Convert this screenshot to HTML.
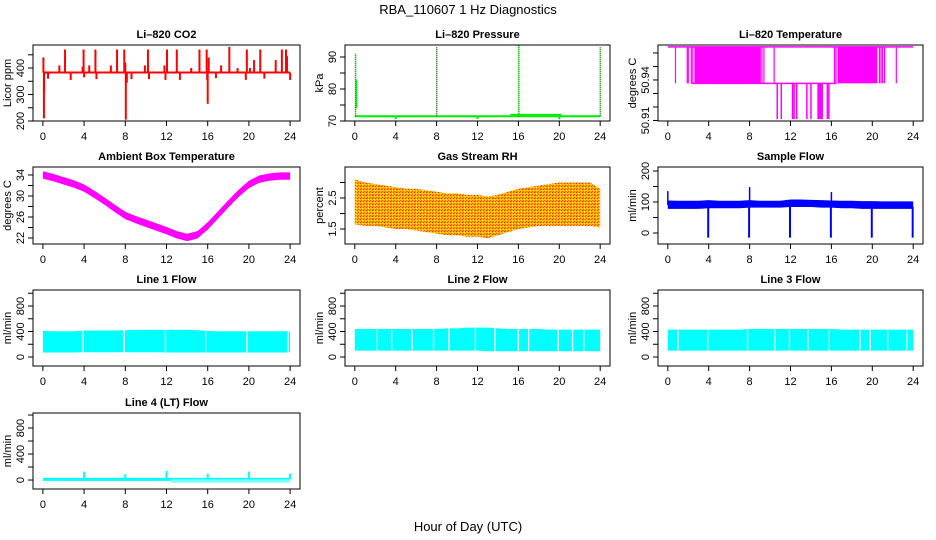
<!DOCTYPE html>
<html><head><meta charset="utf-8"><style>
html,body{margin:0;padding:0;background:#fff}
svg{display:block;font-family:"Liberation Sans",Arial,sans-serif}
</style></head><body>
<svg id="chart" width="936" height="540" viewBox="0 0 936 540" xmlns="http://www.w3.org/2000/svg">
<defs>
<pattern id="rhpat" width="3" height="3" patternUnits="userSpaceOnUse">
<rect width="3" height="3" fill="#ffb000"/><rect width="1" height="1" fill="#ff2000"/><rect x="2" y="1" width="1" height="1" fill="#ffff00"/><rect x="1" y="2" width="1" height="1" fill="#ff5000"/>
</pattern>
</defs>
<text x="468" y="14" text-anchor="middle" font-size="13">RBA_110607  1 Hz Diagnostics</text>
<text x="468" y="531" text-anchor="middle" font-size="13">Hour of Day (UTC)</text>
</svg>
<script>
// ---------- data ----------
const hours = [0,1,2,3,4,5,6,7,8,9,10,11,12,13,14,15,16,17,18,19,20,21,22,23,24];
const xTicks = [0,4,8,12,16,20,24];
// CO2
const co2Base = 383;
const co2SpikeTimes = [0.05,1.6,2.15,3.85,3.95,4.5,5.1,6.6,7.2,7.9,8.0,9.9,10.2,11.8,12.05,13.0,14.4,15.2,15.9,16.1,17.3,18.1,18.9,19.8,20.1,20.5,21.1,22.6,23.2,23.6,23.7,0.1,0.12,0.5,2.7,4.0,5.2,8.05,8.15,8.6,10.3,11.9,13.3,15.95,16.0,16.8,19.7,21.5,24.0];
const co2SpikeVals = [440,410,470,405,470,410,470,410,470,470,420,410,470,410,470,470,400,470,470,440,410,480,400,470,400,430,470,430,470,470,445,210,310,360,355,365,358,205,345,358,358,355,355,355,265,362,355,360,355];
// Pressure
const presBase = 71.5;
const presBumpStart = 15.2, presBumpEnd = 20.2, presBumpVal = 72;
const presSpikeTimes = [0.05,8.0,16.0,24.0];
const presSpikeVals = [91,93,93.7,93];
const presDipTimes = [4,12,20];
const presDipVals = [70.6,70.6,70.6];
// Li-820 temperature levels
const ltHi = 50.9645, ltMid = 50.9375, ltLo = 50.911;
const ltFillStart = [2.6,16.6], ltFillEnd = [9.1,20.5];
const ltHiMidTimes = [0.75,1.9,2.0,2.3,2.45,9.2,9.4,10.4,16.3,16.45,20.7,20.85,21.0,21.2,22.35];
const ltMidLoTimes = [10.7,11.1,12.2,12.35,12.6,13.6,14.0,14.7,14.8,14.9,15.0,15.1,15.6,15.75];
// Ambient box temp
const ambTemp = [34,33.5,32.9,32.3,31.5,30.3,29,27.6,26.3,25.5,24.8,24.1,23.4,22.6,22.1,22.6,24.3,26.4,28.5,30.5,32.2,33.2,33.6,33.8,33.8];
// RH
const rhHi = [3.1,3.0,2.95,2.9,2.85,2.8,2.8,2.75,2.7,2.65,2.65,2.6,2.6,2.55,2.6,2.7,2.8,2.85,2.9,2.95,3.0,3.0,3.0,3.0,2.8];
const rhLo = [1.65,1.6,1.6,1.55,1.5,1.5,1.45,1.4,1.35,1.3,1.3,1.25,1.25,1.2,1.3,1.4,1.5,1.55,1.6,1.6,1.6,1.6,1.6,1.6,1.55];
// Sample flow
const sfHi = [105,104,104,104,106,104,104,104,106,104,104,104,108,108,107,106,105,104,104,103,103,102,102,102,102];
const sfLo = [78,78,78,78,80,80,80,80,82,82,82,82,84,84,84,82,82,80,80,78,78,78,78,78,78];
const sfDipTimes = [4,8,12,16,20,24];
const sfDipVals = [-15,-15,-15,-15,-15,-15];
const sfSpikeTimes = [0,8,16];
const sfSpikeVals = [135,148,132];
// Line flows
const l1Hi = [410,405,405,405,415,415,415,415,420,425,425,425,425,425,425,420,410,405,405,405,405,405,405,405,405];
const l1Lo = [70,70,70,70,75,75,75,75,75,75,75,75,70,70,70,70,70,70,70,70,70,70,70,70,70];
const l1Gaps = [3.9,7.9,11.9,15.8,19.8,23.8];
const l2Hi = [440,440,440,440,440,440,440,440,440,450,450,460,460,460,450,440,440,440,440,430,430,430,430,430,430];
const l2Lo = [100,100,100,100,100,100,100,100,100,100,100,100,100,90,90,90,90,90,90,90,90,90,90,90,90];
const l2Gaps = [2.2,3.6,5.6,7.7,9.2,11.8,13.7,16.0,17.0,19.9,21.3,22.4];
const l3Hi = [430,430,430,430,430,430,430,430,440,440,440,440,440,440,440,440,440,430,430,430,430,430,430,430,430];
const l3Lo = [100,100,100,100,100,100,100,100,100,100,100,100,100,100,100,100,100,100,100,100,100,100,100,100,100];
const l3Gaps = [1.0,3.9,7.8,10.5,11.9,13.7,15.8,18.8,19.8,21.5,23.4];
const l4Base = 10;
const l4SpikeTimes = [4,8,12,16,20,24];
const l4SpikeVals = [130,90,140,100,130,100];
const l4NoiseStart = 12.4, l4NoiseLo = -40;

// ---------- layout ----------
const NS = "http://www.w3.org/2000/svg";
const svg = document.getElementById('chart');
const cols = [{l:33,r:300},{l:345,r:610},{l:658,r:923}];
const rowsG = [{t:45,b:121},{t:167,b:244},{t:290,b:366},{t:413,b:489}];
function el(tag, attrs, parent){const e=document.createElementNS(NS,tag);for(const k in attrs)e.setAttribute(k,attrs[k]);(parent||svg).appendChild(e);return e;}

function makePanel(name, title, col, row, ydom, yticks, ylabels, ytitle){
  const c=cols[col], r=rowsG[row];
  const g=el('g',{});
  
  
  const xs=v=>c.l+(v+0.96)/25.92*(c.r-c.l);
  const ys=v=>r.b-(v-ydom[0])/(ydom[1]-ydom[0])*(r.b-r.t);
  const plot=el('g',{},g);
  
  
  const frame=el('rect',{x:c.l,y:r.t,width:c.r-c.l,height:r.b-r.t,fill:'none',stroke:'#000','stroke-width':1},g);
  
  
  const t=el('text',{x:(c.l+c.r)/2,y:r.t-7,'text-anchor':'middle','font-size':11,'font-weight':'bold'},g);
  t.textContent=title;
  
  
  const xa=el('g',{},g);
  
  
  el('line',{x1:xs(xTicks[0]),x2:xs(xTicks[xTicks.length-1]),y1:r.b,y2:r.b,stroke:'#000'},xa);
  xTicks.forEach(v=>{
    el('line',{x1:xs(v),x2:xs(v),y1:r.b,y2:r.b+5,stroke:'#000'},xa);
    const tl=el('text',{x:xs(v),y:r.b+19,'text-anchor':'middle','font-size':11},xa);
    tl.textContent=v;
    
    
  });
  const ya=el('g',{},g);
  
  
  el('line',{x1:c.l,x2:c.l,y1:ys(yticks[0]),y2:ys(yticks[yticks.length-1]),stroke:'#000'},ya);
  yticks.forEach(v=>el('line',{x1:c.l-5,x2:c.l,y1:ys(v),y2:ys(v),stroke:'#000'},ya));
  ylabels.forEach(v=>{
    const x=c.l-9, y=ys(v);
    const tl=el('text',{x:x,y:y,'text-anchor':'middle','font-size':11,transform:`rotate(-90 ${x} ${y})`},ya);
    tl.textContent=v;
    
    
  });
  const yx=c.l-22, yy=(r.t+r.b)/2;
  const yt=el('text',{x:yx,y:yy,'text-anchor':'middle','font-size':11,transform:`rotate(-90 ${yx} ${yy})`},g);
  yt.textContent=ytitle;
  
  
  return {plot,xs,ys};
}
function band(p, times, hi, lo, fill, name){
  let d='M'+times.map((t,i)=>p.xs(t)+','+p.ys(hi[i])).join('L');
  for(let i=times.length-1;i>=0;i--) d+='L'+p.xs(times[i])+','+p.ys(lo[i]);
  const e=el('path',{d:d+'Z',fill:fill,stroke:'none'},p.plot);
  
  
}
function vline(p,t,v1,v2,color,w,name,dash){
  const a={x1:p.xs(t),x2:p.xs(t),y1:p.ys(v1),y2:p.ys(v2),stroke:color,'stroke-width':w};
  if(dash)a['stroke-dasharray']=dash;
  const e=el('line',a,p.plot);
  
  
}
function hline(p,t1,t2,v,color,w,name){
  const e=el('line',{x1:p.xs(t1),x2:p.xs(t2),y1:p.ys(v),y2:p.ys(v),stroke:color,'stroke-width':w},p.plot);
  
  
}
function interp(arr,t){const i=Math.min(23,Math.floor(t));return arr[i]+(arr[i+1]-arr[i])*(t-i);}

// CO2
let p=makePanel('co2','Li\u2013820 CO2',0,0,[200,487],[200,250,300,350,400,450],[200,300,400],'Licor ppm');
hline(p,0,24,co2Base,'#ff0000',2,'co2-baseline');
co2SpikeTimes.forEach((t,i)=>vline(p,t,co2Base,co2SpikeVals[i],'#ff0000',2,'co2-spike'));
// Pressure
p=makePanel('pressure','Li\u2013820 Pressure',1,0,[70,93.75],[70,75,80,85,90],[70,80,90],'kPa');
hline(p,0,24,presBase,'#00ee00',2,'pressure-baseline');
hline(p,presBumpStart,presBumpEnd,presBumpVal,'#00ee00',1.5,'pressure-bump');
presDipTimes.forEach((t,i)=>vline(p,t,presBase,presDipVals[i],'#00ee00',2,'pressure-dip'));
presSpikeTimes.forEach((t,i)=>{
  vline(p,t,presBase,presSpikeVals[i],'#000',1,'pressure-spike','1,1');
  vline(p,t+0.06,presBase,presSpikeVals[i],'#00ee00',i===2?2:1,'pressure-spike-green','1,1');
});
vline(p,0.15,74,83,'#00ee00',1.5,'pressure-startup');
// Li-820 temperature
p=makePanel('li820-temp','Li\u2013820 Temperature',2,0,[50.9096,50.9659],[50.91,50.92,50.93,50.94,50.95,50.96],[50.91,50.94],'degrees C');
hline(p,0,24,ltHi,'#ff00ff',1.5,'temp-high-level');
hline(p,2.3,16.5,ltMid,'#ff00ff',1.5,'temp-mid-level');
ltFillStart.forEach((s,i)=>{
  const e=el('rect',{x:p.xs(s),y:p.ys(ltHi),width:p.xs(ltFillEnd[i])-p.xs(s),height:p.ys(ltMid)-p.ys(ltHi),fill:'#ff00ff'},p.plot);
  
  
});
ltHiMidTimes.forEach(t=>vline(p,t,ltHi,ltMid,'#ff00ff',1.2,'temp-flip'));
ltMidLoTimes.forEach(t=>vline(p,t,ltMid,ltLo,'#ff00ff',1.5,'temp-drop'));
// Ambient
p=makePanel('ambient','Ambient Box Temperature',0,1,[20.86,35.52],[22,24,26,28,30,32,34],[22,26,30,34],'degrees C');
band(p,hours,ambTemp.map(v=>v+0.7),ambTemp.map(v=>v-0.7),'#ff00ff','ambient-band');
// RH
p=makePanel('rh','Gas Stream RH',1,1,[1.016,3.5],[1.5,2,2.5,3],[1.5,2.5],'percent');
band(p,hours,rhHi,rhLo,'url(#rhpat)','rh-band');
// Sample flow
p=makePanel('sample-flow','Sample Flow',2,1,[-35.5,212.9],[0,50,100,150,200],[0,100,200],'ml/min');
band(p,hours,sfHi,sfLo,'#0000ff','sample-flow-band');
sfDipTimes.forEach((t,i)=>vline(p,t-0.05,85,sfDipVals[i],'#0000ff',2,'sample-flow-dip'));
sfSpikeTimes.forEach((t,i)=>vline(p,t,90,sfSpikeVals[i],'#0000ff',1.5,'sample-flow-spike'));
// Lines 1-3
const lineCfg=[['line1','Line 1 Flow',0,l1Hi,l1Lo,l1Gaps],['line2','Line 2 Flow',1,l2Hi,l2Lo,l2Gaps],['line3','Line 3 Flow',2,l3Hi,l3Lo,l3Gaps]];
lineCfg.forEach(cf=>{
  const q=makePanel(cf[0],cf[1],cf[2],2,[-141,1051],[0,200,400,600,800,1000],[0,400,800],'ml/min');
  band(q,hours,cf[3],cf[4],'#00ffff',cf[0]+'-band');
  cf[5].forEach(t=>vline(q,t,interp(cf[3],t)+10,interp(cf[4],t)-10,'#fff',1.3,cf[0]+'-gap'));
});
// Line 4
p=makePanel('line4','Line 4 (LT) Flow',0,3,[-138,1031],[0,200,400,600,800,1000],[0,400,800],'ml/min');
hline(p,0,24,l4Base,'#00ffff',3,'line4-baseline');
const nz=el('rect',{x:p.xs(l4NoiseStart),y:p.ys(l4Base),width:p.xs(24)-p.xs(l4NoiseStart),height:p.ys(l4NoiseLo)-p.ys(l4Base),fill:'#7ff'},p.plot);


l4SpikeTimes.forEach((t,i)=>vline(p,t,l4Base,l4SpikeVals[i],'#00ffff',2,'line4-spike'));
</script>
</body></html>
